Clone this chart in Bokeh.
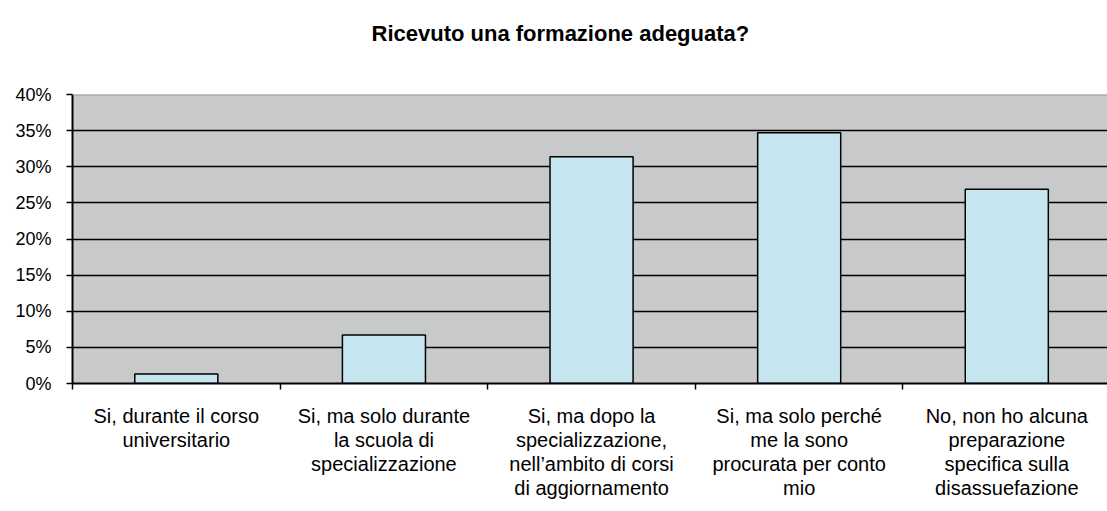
from bokeh.plotting import figure
from bokeh.models import Range1d, FixedTicker, Span
from bokeh.embed import file_html
from bokeh.resources import INLINE

title = "Ricevuto una formazione adeguata?"
categories = [
    "Si, durante il corso\nuniversitario",
    "Si, ma solo durante\nla scuola di\nspecializzazione",
    "Si, ma dopo la\nspecializzazione,\nnell\u2019ambito di corsi\ndi aggiornamento",
    "Si, ma solo perch\u00e9\nme la sono\nprocurata per conto\nmio",
    "No, non ho alcuna\npreparazione\nspecifica sulla\ndisassuefazione",
]
values = [1.3, 6.7, 31.4, 34.7, 26.9]
y_ticks = [0, 5, 10, 15, 20, 25, 30, 35, 40]
y_tick_labels = ["0%", "5%", "10%", "15%", "20%", "25%", "30%", "35%", "40%"]

FONT = "Liberation Sans"
n = len(categories)
centers = [i + 0.5 for i in range(n)]

p = figure(width=1107, height=511, output_backend="svg", toolbar_location=None,
           x_range=Range1d(0, 4.985), y_range=Range1d(0, 40),
           min_border_left=72, min_border_top=94, min_border_bottom=128,
           min_border_right=0)

# trailing empty line lifts the title towards the top of the border panel
p.title.text = title + "\n"
p.title.align = "left"
p.title.offset = 299
p.title.text_font = FONT
p.title.text_font_size = "22px"
p.title.text_font_style = "bold"
p.title.text_color = "black"
p.title.text_line_height = 1.6
p.title.standoff = 17

p.background_fill_color = "#C8C9CB"
p.border_fill_color = "white"
p.outline_line_color = None

p.xgrid.visible = False
p.ygrid.ticker = FixedTicker(ticks=y_ticks[:-1])
p.ygrid.grid_line_color = "black"
p.ygrid.grid_line_width = 1.5
p.add_layout(Span(location=y_ticks[-1], dimension="width", line_color="#9A9A9C", line_width=2))

p.vbar(x=centers, top=values, width=0.40, fill_color="#C5E5EF",
       line_color="black", line_width=1.5)

# y axis
p.yaxis.ticker = FixedTicker(ticks=y_ticks)
p.yaxis.major_label_overrides = {t: l for t, l in zip(y_ticks, y_tick_labels)}
p.yaxis.axis_line_color = "black"
p.yaxis.axis_line_width = 2
p.yaxis.major_tick_line_color = "black"
p.yaxis.major_tick_line_width = 1.5
p.yaxis.major_tick_out = 6
p.yaxis.major_tick_in = 0
p.yaxis.minor_tick_line_color = None
p.yaxis.major_label_text_font = FONT
p.yaxis.major_label_text_font_size = "18px"
p.yaxis.major_label_text_color = "black"
p.yaxis.major_label_standoff = 15

# x axis
p.xaxis.ticker = FixedTicker(ticks=centers, minor_ticks=list(range(n)))
p.xaxis.major_label_overrides = {c: lab for c, lab in zip(centers, categories)}
p.xaxis.axis_line_color = "black"
p.xaxis.axis_line_width = 2
p.xaxis.major_tick_line_color = None
p.xaxis.major_tick_out = 0
p.xaxis.major_tick_in = 0
p.xaxis.minor_tick_line_color = "black"
p.xaxis.minor_tick_line_width = 1.5
p.xaxis.minor_tick_out = 6
p.xaxis.minor_tick_in = 0
p.xaxis.major_label_text_font = FONT
p.xaxis.major_label_text_font_size = "20px"
p.xaxis.major_label_text_color = "black"
p.xaxis.major_label_text_line_height = 1.1
p.xaxis.major_label_standoff = 15

open("out.html", "w").write(file_html(p, INLINE))
